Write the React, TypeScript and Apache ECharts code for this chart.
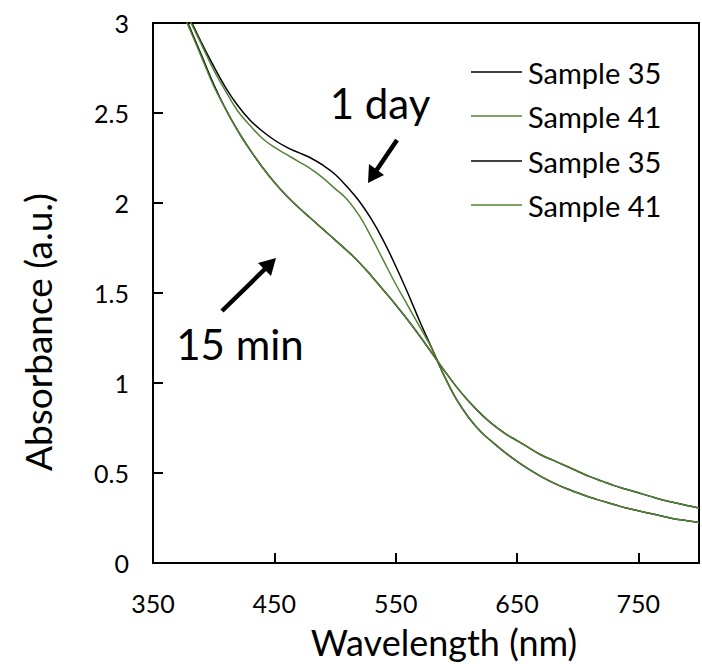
import React, { useEffect, useRef } from "react";
import * as echarts from "echarts";

const wavelengths = [370, 380, 390, 400, 410, 420, 430, 440, 450, 460, 470, 480, 490, 500, 510, 520, 530, 540, 550, 560, 570, 580, 590, 600, 610, 620, 630, 640, 650, 660, 670, 680, 690, 700, 710, 720, 730, 740, 750, 760, 770, 780, 790, 800];

const sample35Day = [3.18, 3.03, 2.89, 2.76, 2.64, 2.54, 2.46, 2.40, 2.35, 2.31, 2.28, 2.25, 2.21, 2.16, 2.09, 2.01, 1.91, 1.79, 1.65, 1.50, 1.34, 1.19, 1.04, 0.91, 0.81, 0.73, 0.67, 0.615, 0.565, 0.52, 0.48, 0.445, 0.415, 0.39, 0.365, 0.345, 0.325, 0.305, 0.29, 0.275, 0.26, 0.245, 0.235, 0.225];
const sample41Day = [3.17, 3.02, 2.88, 2.74, 2.62, 2.51, 2.43, 2.36, 2.31, 2.27, 2.23, 2.19, 2.14, 2.08, 2.02, 1.93, 1.81, 1.68, 1.55, 1.43, 1.31, 1.19, 1.04, 0.91, 0.81, 0.73, 0.67, 0.615, 0.565, 0.52, 0.48, 0.445, 0.415, 0.39, 0.365, 0.345, 0.325, 0.305, 0.29, 0.275, 0.26, 0.245, 0.235, 0.225];
const sample35Min = [3.15, 2.98, 2.82, 2.66, 2.52, 2.40, 2.295, 2.20, 2.115, 2.04, 1.975, 1.915, 1.855, 1.795, 1.735, 1.67, 1.595, 1.515, 1.435, 1.35, 1.26, 1.165, 1.07, 0.98, 0.90, 0.83, 0.77, 0.72, 0.68, 0.64, 0.60, 0.57, 0.54, 0.51, 0.48, 0.455, 0.43, 0.41, 0.39, 0.37, 0.35, 0.335, 0.32, 0.305];
const sample41Min = [3.13, 2.97, 2.81, 2.65, 2.52, 2.40, 2.295, 2.20, 2.115, 2.04, 1.975, 1.915, 1.855, 1.795, 1.735, 1.67, 1.595, 1.515, 1.435, 1.35, 1.26, 1.165, 1.07, 0.98, 0.90, 0.83, 0.77, 0.72, 0.68, 0.64, 0.60, 0.57, 0.54, 0.51, 0.48, 0.455, 0.43, 0.41, 0.39, 0.37, 0.35, 0.335, 0.32, 0.305];

const legendNames = ["Sample 35", "Sample 41", "Sample 35", "Sample 41"];
const xTicks = [350, 450, 550, 650, 750];

const BLACK = "#000000";
const GREEN = "#548235";
const FONT = "Lato";

const zip = (ys: number[]) => wavelengths.map((x, i) => [x, ys[i]]);

export default function App() {
  const ref = useRef<HTMLDivElement>(null);
  useEffect(() => {
    if (!ref.current) return;
    const chart = echarts.init(ref.current, undefined, { renderer: "svg" });
    const lineSeries = (name: string, ys: number[], color: string) => ({
      name,
      type: "line",
      data: zip(ys),
      smooth: 0.4,
      showSymbol: false,
      symbol: "none",
      lineStyle: { color, width: 1.5 },
      itemStyle: { color },
      z: 2,
    });
    const legendColors = [BLACK, GREEN, BLACK, GREEN];
    const legendRows = [72, 116, 161, 205];
    const legendGraphics: any[] = [];
    legendNames.forEach((n, i) => {
      legendGraphics.push({
        type: "line",
        shape: { x1: 471, y1: legendRows[i], x2: 522, y2: legendRows[i] },
        style: { stroke: legendColors[i], lineWidth: 1.5 },
      });
      legendGraphics.push({
        type: "text",
        x: 528,
        y: legendRows[i],
        style: { text: n, font: `29px ${FONT}`, fill: "#000", verticalAlign: "middle", align: "left" },
      });
    });
    chart.setOption({
      animation: false,
      grid: {
        left: 153,
        top: 23,
        bottom: 101,
        right: -13.5,
        show: true,
        borderColor: "#000",
        borderWidth: 2,
        backgroundColor: "transparent",
      },
      xAxis: {
        type: "value",
        min: 350,
        max: 800,
        interval: 100,
        axisLine: { show: true, onZero: false, lineStyle: { color: "#000", width: 2 } },
        axisTick: { show: true, inside: true, length: 10, lineStyle: { color: "#000", width: 2 } },
        splitLine: { show: false },
        axisLabel: {
          margin: 27,
          fontSize: 25,
          fontFamily: FONT,
          color: "#000",
          formatter: (v: number) => (xTicks.includes(v) ? String(v) : ""),
        },
      },
      yAxis: {
        type: "value",
        min: 0,
        max: 3,
        interval: 0.5,
        axisLine: { show: true, lineStyle: { color: "#000", width: 2 } },
        axisTick: { show: true, inside: true, length: 10, lineStyle: { color: "#000", width: 2 } },
        splitLine: { show: false },
        axisLabel: { margin: 24, fontSize: 25, fontFamily: FONT, color: "#000" },
      },
      series: [
        lineSeries("Sample 35 (1 day)", sample35Day, BLACK),
        lineSeries("Sample 41 (1 day)", sample41Day, GREEN),
        lineSeries("Sample 35 (15 min)", sample35Min, BLACK),
        lineSeries("Sample 41 (15 min)", sample41Min, GREEN),
      ],
      graphic: [
        ...legendGraphics,
        {
          type: "text",
          x: 444,
          y: 642,
          style: { text: "Wavelength (nm)", font: `36px ${FONT}`, fill: "#000", align: "center", verticalAlign: "middle" },
        },
        {
          type: "text",
          x: 37,
          y: 332,
          rotation: Math.PI / 2,
          style: { text: "Absorbance (a.u.)", font: `37px ${FONT}`, fill: "#000", align: "center", verticalAlign: "middle" },
        },
        {
          type: "text",
          x: 380,
          y: 103,
          style: { text: "1 day", font: `42px ${FONT}`, fill: "#000", align: "center", verticalAlign: "middle" },
        },
        {
          type: "text",
          x: 240,
          y: 344,
          style: { text: "15 min", font: `42px ${FONT}`, fill: "#000", align: "center", verticalAlign: "middle" },
        },
        {
          type: "line",
          shape: { x1: 222, y1: 311, x2: 266, y2: 268 },
          style: { stroke: "#000", lineWidth: 4.5 },
        },
        {
          type: "polygon",
          shape: { points: [[276, 258], [271, 276], [258, 263]] },
          style: { fill: "#000" },
        },
        {
          type: "line",
          shape: { x1: 397, y1: 140, x2: 376, y2: 171 },
          style: { stroke: "#000", lineWidth: 4.5 },
        },
        {
          type: "polygon",
          shape: { points: [[368, 183], [384, 175], [369, 164]] },
          style: { fill: "#000" },
        },
      ],
    });
    return () => chart.dispose();
  }, []);
  return <div ref={ref} style={{ position: "absolute", left: 0, top: 0, width: 702, height: 664 }} />;
}
